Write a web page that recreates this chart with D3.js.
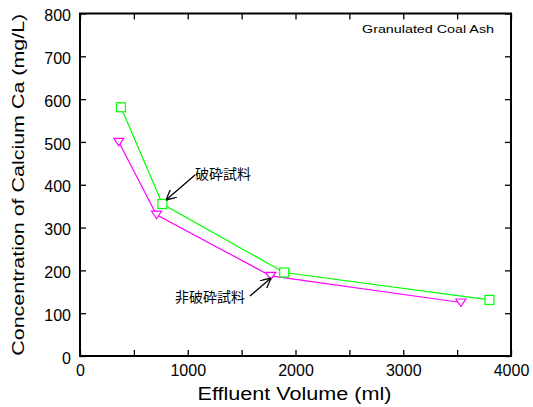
<!DOCTYPE html>
<html>
<head>
<meta charset="utf-8">
<script src="https://cdn.jsdelivr.net/npm/d3@7"></script>
<style>
  body { margin: 0; background: #fff; }
  text { font-family: "Liberation Sans", Arial, sans-serif; }
</style>
</head>
<body>
<div id="chart"></div>
<script>
// crushed sample (green squares)
const crushedVolume = [380, 765, 1895, 3800];
const crushedCa = [581, 355, 195, 131];
// uncrushed sample (magenta triangles)
const uncrushedVolume = [360, 710, 1770, 3535];
const uncrushedCa = [500, 330, 187, 125];

const xTicks = [0, 1000, 2000, 3000, 4000];
const yTicks = [0, 100, 200, 300, 400, 500, 600, 700, 800];

const width = 533, height = 407;
const margin = { left: 80, right: 22, top: 13.5, bottom: 51 };

const svg = d3.select("#chart").append("svg")
    .attr("width", width)
    .attr("height", height);

const x = d3.scaleLinear().domain([0, 4000]).range([margin.left, width - margin.right]);
const y = d3.scaleLinear().domain([0, 800]).range([height - margin.bottom, margin.top]);

const tickLen = 6;

// axes, ticks pointing inward
svg.append("g")
    .attr("transform", `translate(0,${y(0)})`)
    .call(d3.axisBottom(x).tickValues(d3.range(0, 4001, 500)).tickSize(-tickLen).tickPadding(9)
        .tickFormat(d => xTicks.includes(d) ? d : ""));
svg.append("g")
    .attr("transform", `translate(0,${y(800)})`)
    .call(d3.axisTop(x).tickValues(d3.range(0, 4001, 500)).tickSize(-tickLen).tickFormat(""));
svg.append("g")
    .attr("class", "yaxis")
    .attr("transform", `translate(${x(0)},0)`)
    .call(d3.axisLeft(y).tickValues(yTicks).tickSize(-tickLen).tickPadding(9));
svg.append("g")
    .attr("transform", `translate(${x(4000)},0)`)
    .call(d3.axisRight(y).tickValues(yTicks).tickSize(-tickLen).tickFormat(""));

svg.selectAll(".domain").remove();
svg.selectAll(".tick line").attr("stroke", "#000").attr("stroke-width", 1.3);
svg.selectAll(".tick text").attr("font-size", 16).attr("fill", "#000")
    .style("font-family", "'Liberation Sans', Arial, sans-serif");
svg.selectAll(".yaxis .tick text").attr("dy", "0.45em");

svg.append("rect")
    .attr("x", x(0)).attr("y", y(800))
    .attr("width", x(4000) - x(0)).attr("height", y(0) - y(800))
    .attr("fill", "none").attr("stroke", "#000").attr("stroke-width", 2);

// axis titles
svg.append("text")
    .attr("x", (x(0) + x(4000)) / 2 - 1).attr("y", 400)
    .attr("text-anchor", "middle").attr("font-size", 18)
    .attr("textLength", 194).attr("lengthAdjust", "spacingAndGlyphs")
    .text("Effluent Volume (ml)");
svg.append("text")
    .attr("transform", `translate(24,${(y(0) + y(800)) / 2}) rotate(-90)`)
    .attr("text-anchor", "middle").attr("font-size", 17)
    .attr("textLength", 342).attr("lengthAdjust", "spacingAndGlyphs")
    .text("Concentration of Calcium Ca (mg/L)");

svg.append("text")
    .attr("x", x(4000) - 17).attr("y", 33)
    .attr("text-anchor", "end").attr("font-size", 11.5)
    .attr("textLength", 132).attr("lengthAdjust", "spacingAndGlyphs")
    .text("Granulated Coal Ash");

const line = d3.line().x(d => x(d[0])).y(d => y(d[1]));

const crushed = crushedVolume.map((v, i) => [v, crushedCa[i]]);
const uncrushed = uncrushedVolume.map((v, i) => [v, uncrushedCa[i]]);

svg.append("path").datum(uncrushed).attr("d", line)
    .attr("fill", "none").attr("stroke", "#ff00ff").attr("stroke-width", 1.2);
svg.append("path").datum(crushed).attr("d", line)
    .attr("fill", "none").attr("stroke", "#00ff00").attr("stroke-width", 1.2);

svg.selectAll(".sq").data(crushed).enter().append("rect")
    .attr("x", d => x(d[0]) - 4.5).attr("y", d => y(d[1]) - 4.5)
    .attr("width", 9).attr("height", 9)
    .attr("fill", "#fff").attr("stroke", "#00ff00").attr("stroke-width", 1.2);

// downward triangle, a bit flatter than equilateral
svg.selectAll(".tri").data(uncrushed).enter().append("path")
    .attr("d", "M-5,-3.5 L5,-3.5 L0,4 Z")
    .attr("transform", d => `translate(${x(d[0])},${y(d[1])})`)
    .attr("fill", "#fff").attr("stroke", "#ff00ff").attr("stroke-width", 1.2);

// annotations
svg.append("defs").append("marker")
    .attr("id", "arrow").attr("viewBox", "0 0 10 10")
    .attr("refX", 10).attr("refY", 5)
    .attr("markerWidth", 10).attr("markerHeight", 10)
    .attr("markerUnits", "userSpaceOnUse")
    .attr("orient", "auto")
    .append("path").attr("d", "M0,0 L10,5 L0,10")
    .attr("fill", "none").attr("stroke", "#000").attr("stroke-width", 1.3);

svg.append("text").attr("x", 195).attr("y", 179).attr("font-size", 14)
    .style("font-family", "'Noto Sans CJK JP', sans-serif")
    .text("破砕試料");
svg.append("line").attr("x1", 195).attr("y1", 175).attr("x2", 166).attr("y2", 200)
    .attr("stroke", "#000").attr("stroke-width", 1.3).attr("marker-end", "url(#arrow)");

svg.append("text").attr("x", 175).attr("y", 301.5).attr("font-size", 14)
    .style("font-family", "'Noto Sans CJK JP', sans-serif")
    .text("非破砕試料");
svg.append("line").attr("x1", 250).attr("y1", 296).attr("x2", 271).attr("y2", 278)
    .attr("stroke", "#000").attr("stroke-width", 1.3).attr("marker-end", "url(#arrow)");
</script>
</body>
</html>
